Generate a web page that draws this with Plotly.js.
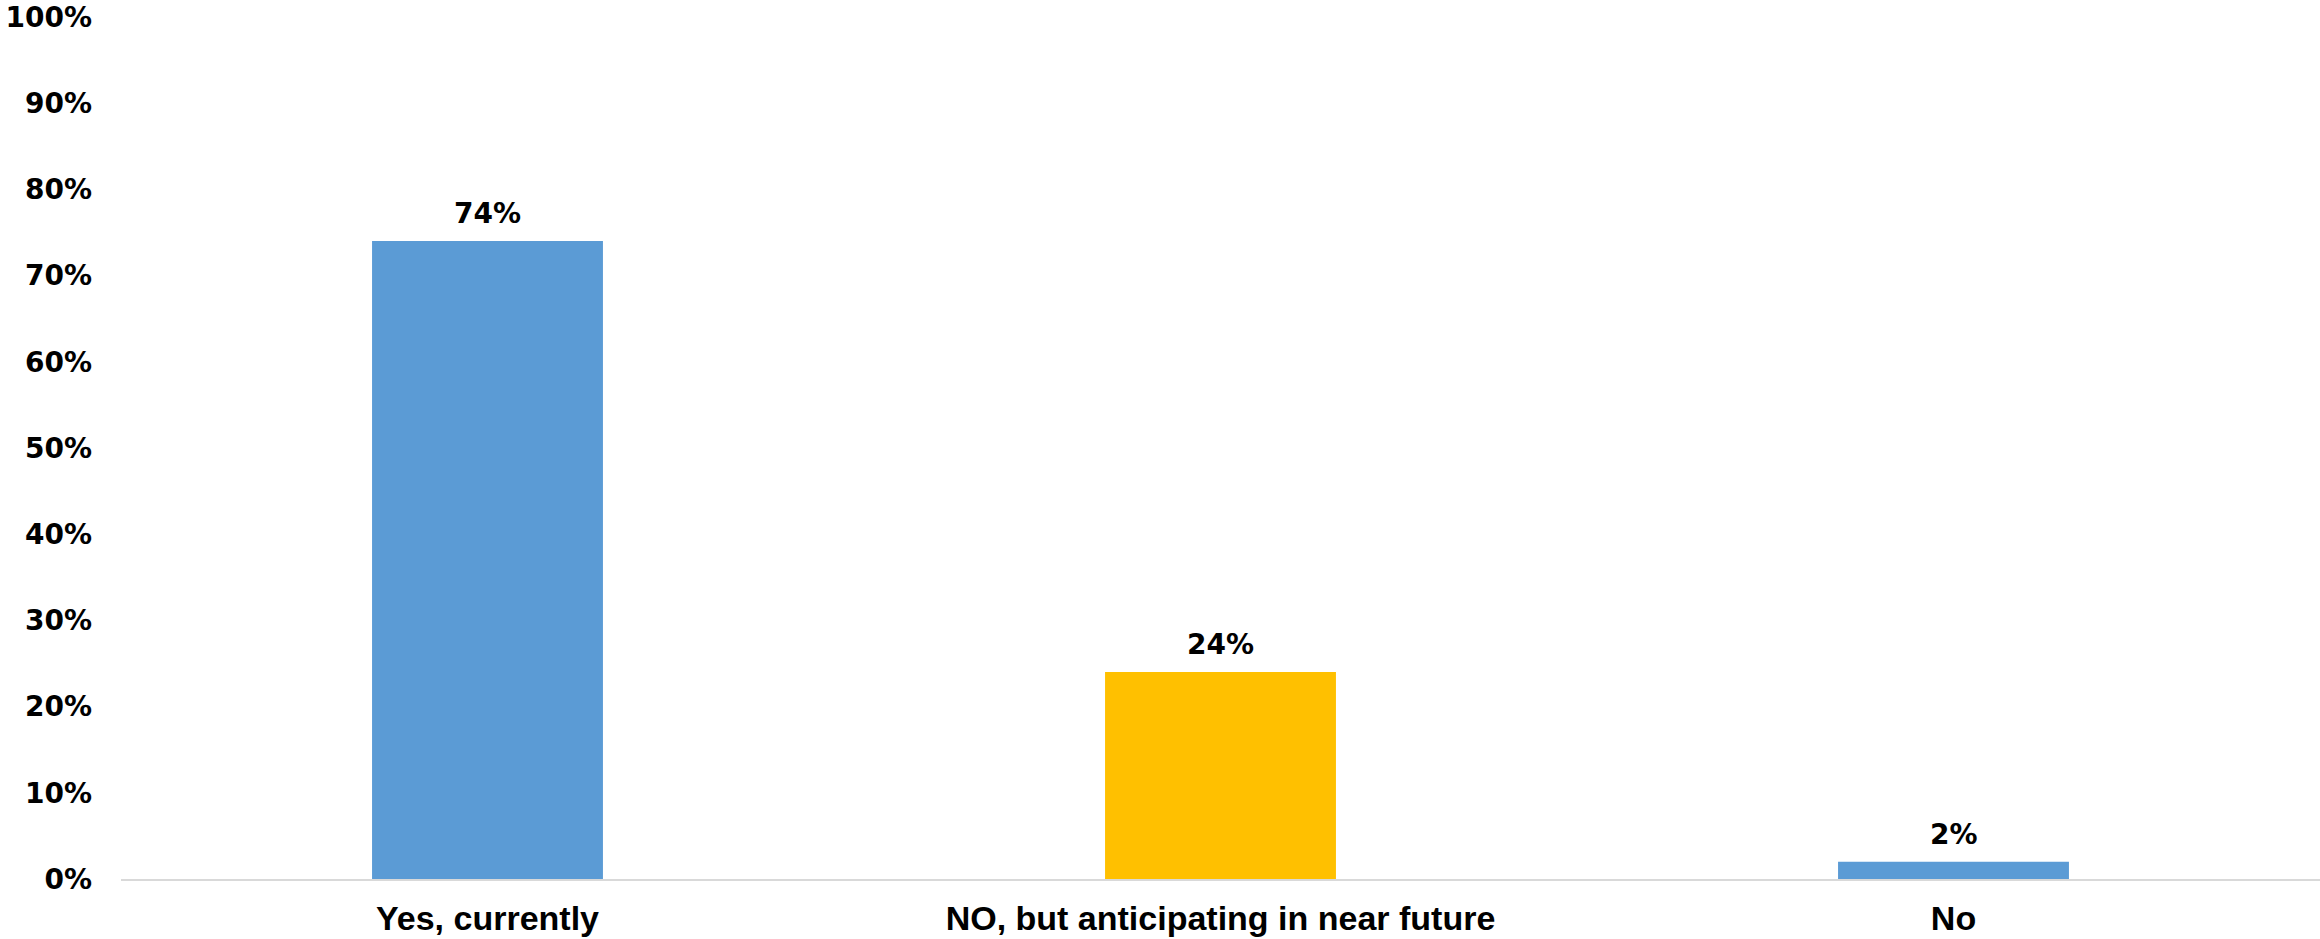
<!DOCTYPE html>
<html>
<head>
<meta charset="utf-8">
<script src="https://cdn.plot.ly/plotly-3.0.1.min.js"></script>
<style>html,body{margin:0;padding:0;background:#fff;}#chart{width:2320px;height:939px;}</style>
</head>
<body>
<div id="chart"></div>
<script>
const categories = ["Yes, currently", "NO, but anticipating in near future", "No"];
const values = [0.74, 0.24, 0.02];
const barColors = ["#5B9BD5", "#FFC000", "#5B9BD5"];
const tickVals = [0, 0.1, 0.2, 0.3, 0.4, 0.5, 0.6, 0.7, 0.8, 0.9, 1.0];
const tickLabels = ["0%", "10%", "20%", "30%", "40%", "50%", "60%", "70%", "80%", "90%", "100%"];

const labelFont = {family: "DejaVu Sans, Verdana, sans-serif", size: 28, color: "#000000", weight: "bold"};

const trace = {
  type: "bar",
  x: categories,
  y: values,
  marker: {color: barColors},
  hoverinfo: "skip"
};

const annotations = categories.map((c, i) => ({
  x: c, y: values[i], xref: "x", yref: "y",
  text: "<b>" + Math.round(values[i] * 100) + "%</b>",
  showarrow: false, yanchor: "bottom", yshift: 9,
  font: labelFont
}));

const layout = {
  width: 2320, height: 939,
  margin: {l: 121, r: 0, t: 17, b: 60},
  paper_bgcolor: "#ffffff", plot_bgcolor: "#ffffff",
  showlegend: false,
  bargap: 0.685,
  xaxis: {
    type: "category",
    showgrid: false, zeroline: false,
    showline: true, linecolor: "#D9D9D9", linewidth: 2,
    ticks: "", ticklabelstandoff: 8,
    tickfont: {family: "Liberation Sans, Arial, sans-serif", size: 34, color: "#000000", weight: "bold"}
  },
  yaxis: {
    range: [0, 1.0],
    tickvals: tickVals, ticktext: tickLabels,
    showgrid: false, zeroline: false, showline: false,
    ticks: "", ticklabelstandoff: 28, ticklabeloverflow: "allow",
    tickfont: labelFont
  },
  annotations: annotations
};

Plotly.newPlot("chart", [trace], layout, {displayModeBar: false, staticPlot: true});
</script>
</body>
</html>
